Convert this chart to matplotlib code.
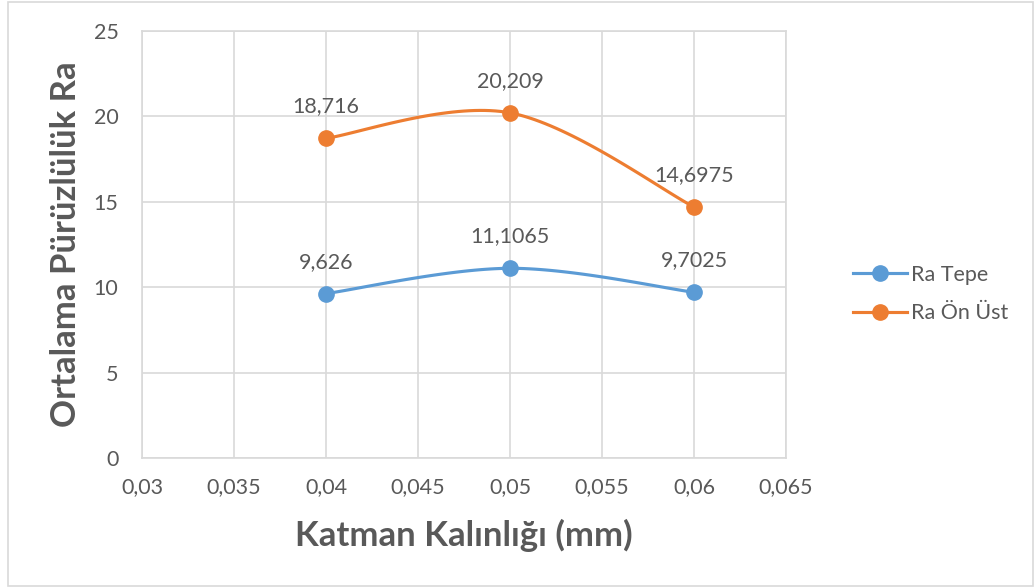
import numpy as np
import matplotlib
matplotlib.use('Agg')
import matplotlib.pyplot as plt
from matplotlib.ticker import FuncFormatter, MultipleLocator
from matplotlib.patches import Rectangle

# data
katman = [0.04, 0.05, 0.06]
ra_tepe = [9.626, 11.1065, 9.7025]
ra_on_ust = [18.716, 20.209, 14.6975]
series_names = ['Ra Tepe', 'Ra Ön Üst']
colors = ['#5B9BD5', '#ED7D31']

plt.rcParams['font.family'] = ['Lato', 'DejaVu Sans']
txt = '#595959'
grid = '#D9D9D9'
fs = 15.5


def smooth(x, y, n=40):
    # excel-like bezier smoothing (catmull-rom style)
    P = np.column_stack([x, y]).astype(float)
    pts = []
    for i in range(len(P) - 1):
        p0 = P[i - 1] if i > 0 else P[i]
        p1 = P[i]
        p2 = P[i + 1]
        p3 = P[i + 2] if i + 2 < len(P) else P[i + 1]
        c1 = p1 + (p2 - p0) / 6
        c2 = p2 - (p3 - p1) / 6
        t = np.linspace(0, 1, n)[:, None]
        seg = (1 - t) ** 3 * p1 + 3 * (1 - t) ** 2 * t * c1 + 3 * (1 - t) * t ** 2 * c2 + t ** 3 * p2
        pts.append(seg)
    pts = np.vstack(pts)
    return pts[:, 0], pts[:, 1]


def comma(v, pos=None):
    return ('%g' % v).replace('.', ',')


fig = plt.figure(figsize=(10.35, 5.88), dpi=100)
fig.patches.append(Rectangle((8 / 1035, 2 / 588), 1025 / 1035, 584 / 588, transform=fig.transFigure,
                             fill=False, edgecolor=grid, lw=1.2))
ax = fig.add_axes([142 / 1035, 130 / 588, 644 / 1035, 427 / 588])

for ys, name, c in zip([ra_tepe, ra_on_ust], series_names, colors):
    sx, sy = smooth(katman, ys)
    ax.plot(sx, sy, color=c, lw=2.25, solid_capstyle='round', zorder=3)
    ax.plot(katman, ys, 'o', color=c, ms=11, zorder=4)
    ax.plot([], [], '-o', color=c, lw=2.25, ms=11, label=name)
    for xv, yv in zip(katman, ys):
        ax.annotate(comma(yv), (xv, yv), xytext=(0, 23), textcoords='offset points',
                    ha='center', va='center', fontsize=fs, color=txt)

ax.set_xlim(0.03, 0.065)
ax.set_ylim(0, 25)
ax.xaxis.set_major_locator(MultipleLocator(0.005))
ax.yaxis.set_major_locator(MultipleLocator(5))
ax.xaxis.set_major_formatter(FuncFormatter(comma))
ax.grid(True, color=grid, lw=1.2)
ax.set_axisbelow(True)
for s in ax.spines.values():
    s.set_color(grid)
    s.set_linewidth(1.2)
ax.tick_params(length=0, labelsize=fs, labelcolor=txt)
ax.tick_params(axis='x', pad=14)
ax.tick_params(axis='y', pad=17)
ax.set_xlabel('Katman Kalınlığı (mm)', fontsize=25, fontweight='bold', color=txt, va='center')
ax.set_ylabel('Ortalama Pürüzlülük Ra', fontsize=25, fontweight='bold', color=txt,
              va='center', ha='center', rotation_mode='default')
ax.xaxis.set_label_coords(0.5, -0.182)
ax.yaxis.set_label_coords(-0.118, 0.5)

leg = ax.legend(loc='center left', bbox_to_anchor=(853 / 1035, 294 / 588), bbox_transform=fig.transFigure,
                frameon=False, fontsize=fs, handlelength=2.5, labelspacing=0.85, handletextpad=0.2,
                borderpad=0, borderaxespad=0)
for t in leg.get_texts():
    t.set_color(txt)

fig.savefig('out.png', dpi=100)
